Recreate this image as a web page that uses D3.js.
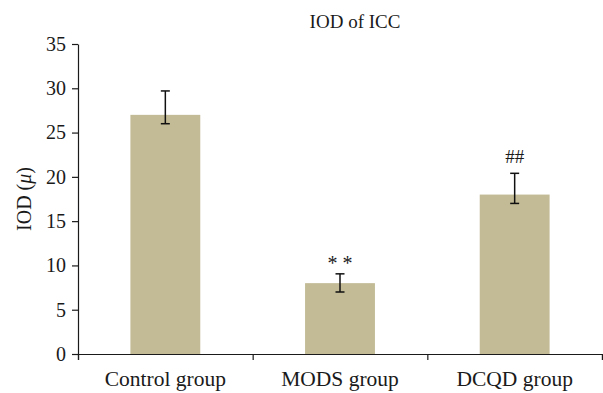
<!DOCTYPE html>
<html>
<head>
<meta charset="utf-8">
<script src="https://cdn.jsdelivr.net/npm/d3@7"></script>
<style>
  body { margin: 0; background: #fff; }
  svg text { font-family: "Liberation Serif", "DejaVu Serif", serif; fill: #1a1a1a; }
</style>
</head>
<body>
<div id="chart"></div>
<script>
// 数据
const categories = ["Control group", "MODS group", "DCQD group"];
const values = [27, 8, 18];
const errUp = [2.7, 1.05, 2.4];
const errDown = [1.0, 1.0, 1.0];
const marks = ["", "* *", "##"];
const yTicks = [0, 5, 10, 15, 20, 25, 30, 35];

const width = 603, height = 393;
const margin = { top: 44, right: 1, bottom: 39, left: 78 };

const svg = d3.select("#chart").append("svg")
    .attr("width", width)
    .attr("height", height);

const x = d3.scaleBand()
    .domain(categories)
    .range([margin.left, width - margin.right])
    .paddingInner(0.6)
    .paddingOuter(0.3);

// 轴刻度用 band 的边界
const xEdge = d3.scaleLinear()
    .domain([0, categories.length])
    .range([margin.left, width - margin.right]);

const y = d3.scaleLinear()
    .domain([0, 35])
    .range([height - margin.bottom, margin.top]);

// 柱子
svg.selectAll("rect.bar")
    .data(values)
    .enter()
    .append("rect")
    .attr("class", "bar")
    .attr("x", (d, i) => x(categories[i]))
    .attr("width", x.bandwidth())
    .attr("y", (d) => y(d))
    .attr("height", (d) => y(0) - y(d))
    .attr("fill", "#c3bb95");

// 误差线
const g = svg.selectAll("g.err")
    .data(values)
    .enter()
    .append("g")
    .attr("class", "err")
    .attr("stroke", "#111")
    .attr("stroke-width", 1.5);
const cx = (i) => x(categories[i]) + x.bandwidth() / 2;
g.append("line")
    .attr("x1", (d, i) => cx(i)).attr("x2", (d, i) => cx(i))
    .attr("y1", (d, i) => y(d + errUp[i]))
    .attr("y2", (d, i) => y(d - errDown[i]));
g.append("line")
    .attr("x1", (d, i) => cx(i) - 4.5).attr("x2", (d, i) => cx(i) + 4.5)
    .attr("y1", (d, i) => y(d + errUp[i])).attr("y2", (d, i) => y(d + errUp[i]));
g.append("line")
    .attr("x1", (d, i) => cx(i) - 4.5).attr("x2", (d, i) => cx(i) + 4.5)
    .attr("y1", (d, i) => y(d - errDown[i])).attr("y2", (d, i) => y(d - errDown[i]));

// 显著性标记
svg.selectAll("text.mark")
    .data(values)
    .enter()
    .append("text")
    .attr("class", "mark")
    .attr("x", (d, i) => cx(i))
    .attr("y", (d, i) => y(d + errUp[i]) - (i === 1 ? 4 : 10))
    .attr("text-anchor", "middle")
    .attr("font-size", (d, i) => i === 1 ? 20 : 19)
    .text((d, i) => marks[i]);

// Y 轴
const yAxis = svg.append("g")
    .attr("transform", `translate(${margin.left},0)`)
    .call(d3.axisLeft(y).tickValues(yTicks).tickSize(6).tickPadding(6).tickSizeOuter(0));
yAxis.selectAll("text").attr("font-size", 20).attr("fill", "#1a1a1a");
yAxis.selectAll("line, path").attr("stroke", "#1a1a1a").attr("stroke-width", 1.2);

// X 轴
const xAxis = svg.append("g")
    .attr("transform", `translate(0,${y(0)})`)
    .call(d3.axisBottom(xEdge).ticks(categories.length).tickSize(6).tickFormat("").tickSizeOuter(6));
xAxis.selectAll("line, path").attr("stroke", "#1a1a1a").attr("stroke-width", 1.2);

svg.selectAll("text.cat")
    .data(categories)
    .enter()
    .append("text")
    .attr("class", "cat")
    .attr("x", (d) => x(d) + x.bandwidth() / 2)
    .attr("y", y(0) + 32)
    .attr("text-anchor", "middle")
    .attr("font-size", 21.5)
    .text((d) => d);

// 标题
svg.append("text")
    .attr("x", 355)
    .attr("y", 28)
    .attr("text-anchor", "middle")
    .attr("font-size", 19)
    .text("IOD of ICC");

// Y 轴标题
const yl = svg.append("text")
    .attr("transform", `translate(31,${(margin.top + y(0)) / 2}) rotate(-90)`)
    .attr("text-anchor", "middle")
    .attr("font-size", 20);
yl.append("tspan").text("IOD (");
yl.append("tspan").attr("font-style", "italic").text("μ");
yl.append("tspan").text(")");
</script>
</body>
</html>
